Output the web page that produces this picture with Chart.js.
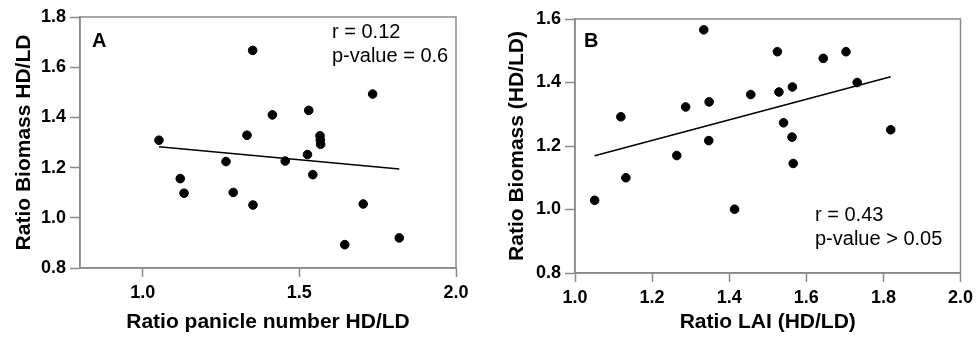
<!DOCTYPE html>
<html>
<head>
<meta charset="utf-8">
<script src="https://cdn.jsdelivr.net/npm/chart.js@4.4.1/dist/chart.umd.min.js"></script>
<style>
  html, body { margin: 0; padding: 0; background: #fff; }
  .panel { position: absolute; top: 0; width: 489px; height: 341px; }
  #wrapA { left: 0; }
  #wrapB { left: 489px; }
</style>
</head>
<body>
<div class="panel" id="wrapA"><canvas id="chartA"></canvas></div>
<div class="panel" id="wrapB"><canvas id="chartB"></canvas></div>
<script>
// panel A: biomass ratio vs panicle number ratio
const panicleA = [1.052, 1.120, 1.132, 1.266, 1.289, 1.333, 1.351, 1.352, 1.414, 1.455, 1.526, 1.530, 1.543, 1.566, 1.567, 1.568, 1.645, 1.704, 1.734, 1.819];
const biomassA = [1.309, 1.156, 1.098, 1.224, 1.101, 1.329, 1.667, 1.051, 1.410, 1.226, 1.252, 1.428, 1.172, 1.327, 1.310, 1.293, 0.893, 1.055, 1.493, 0.920];
const fitAx = [1.052, 1.819];
const fitAy = [1.283, 1.194];
const xTicksA = [1.0, 1.5, 2.0];
const yTicksA = [0.8, 1.0, 1.2, 1.4, 1.6, 1.8];

// panel B: biomass ratio vs LAI ratio
const laiB = [1.051, 1.119, 1.132, 1.264, 1.287, 1.334, 1.348, 1.347, 1.414, 1.456, 1.525, 1.529, 1.541, 1.564, 1.563, 1.566, 1.644, 1.703, 1.732, 1.819];
const biomassB = [1.029, 1.292, 1.100, 1.170, 1.323, 1.566, 1.339, 1.217, 1.001, 1.362, 1.497, 1.370, 1.273, 1.386, 1.228, 1.145, 1.476, 1.497, 1.400, 1.251];
const fitBx = [1.051, 1.819];
const fitBy = [1.169, 1.418];
const xTicksB = [1.0, 1.2, 1.4, 1.6, 1.8, 2.0];
const yTicksB = [0.8, 1.0, 1.2, 1.4, 1.6];

const FONT = "'Liberation Sans', Arial, sans-serif";
const AXIS_GREY = "#8a8a8a";

function toPoints(xs, ys) {
    return xs.map(function (x, i) { return { x: x, y: ys[i] }; });
}

// box around plot area + panel letter + stats text
const boxAndText = {
    id: "boxAndText",
    afterDraw: function (chart, args, opts) {
        const ctx = chart.ctx;
        const a = chart.chartArea;
        ctx.save();
        ctx.strokeStyle = AXIS_GREY;
        ctx.lineWidth = 1.5;
        ctx.strokeRect(a.left, a.top, a.right - a.left, a.bottom - a.top);
        ctx.fillStyle = "#000";
        ctx.textBaseline = "alphabetic";
        ctx.textAlign = "left";
        ctx.font = "bold 20px " + FONT;
        ctx.fillText(opts.letter, a.left + opts.letterX, a.top + opts.letterY);
        ctx.font = "20px " + FONT;
        opts.lines.forEach(function (t, i) {
            ctx.fillText(t, a.left + opts.textX, a.top + opts.textY + i * 24);
        });
        ctx.restore();
    }
};

function makeChart(id, xs, ys, fx, fy, xTicks, yTicks, xTitle, yTitle, lay, ann) {
    new Chart(id, {
        type: "scatter",
        data: {
            datasets: [
                {
                    data: toPoints(xs, ys),
                    backgroundColor: "#000",
                    borderColor: "#000",
                    pointRadius: 4.3,
                    pointHoverRadius: 4.3
                },
                {
                    type: "line",
                    data: toPoints(fx, fy),
                    borderColor: "#000",
                    borderWidth: 1.5,
                    pointRadius: 0,
                    fill: false
                }
            ]
        },
        options: {
            responsive: true,
            maintainAspectRatio: false,
            animation: false,
            layout: { padding: { left: 0, top: lay.top, right: lay.right, bottom: 0 } },
            plugins: {
                legend: { display: false },
                tooltip: { enabled: false },
                boxAndText: ann
            },
            scales: {
                x: {
                    type: "linear",
                    min: lay.xMin,
                    max: xTicks[xTicks.length - 1],
                    afterBuildTicks: function (s) { s.ticks = xTicks.map(function (v) { return { value: v }; }); },
                    afterFit: function (s) { s.height = lay.xHeight; },
                    border: { display: true, color: AXIS_GREY, width: 1.5 },
                    grid: { drawOnChartArea: false, drawTicks: true, tickLength: 9, tickColor: AXIS_GREY, tickWidth: 1.5 },
                    ticks: {
                        padding: 5,
                        color: "#000",
                        font: { family: FONT, size: 18, weight: "bold" },
                        callback: function (v) { return Number(v).toFixed(1); }
                    },
                    title: {
                        display: true,
                        text: xTitle,
                        color: "#000",
                        font: { family: FONT, size: 21, weight: "bold" },
                        padding: { top: 0, bottom: 6 }
                    }
                },
                y: {
                    type: "linear",
                    min: yTicks[0],
                    max: yTicks[yTicks.length - 1],
                    afterBuildTicks: function (s) { s.ticks = yTicks.map(function (v) { return { value: v }; }); },
                    afterFit: function (s) { s.width = lay.yWidth; },
                    border: { display: true, color: AXIS_GREY, width: 1.5 },
                    grid: { drawOnChartArea: false, drawTicks: true, tickLength: 10, tickColor: AXIS_GREY, tickWidth: 1.5 },
                    ticks: {
                        padding: 4,
                        color: "#000",
                        font: { family: FONT, size: 18, weight: "bold" },
                        callback: function (v) { return Number(v).toFixed(1); }
                    },
                    title: {
                        display: true,
                        text: yTitle,
                        color: "#000",
                        font: { family: FONT, size: 21, weight: "bold" },
                        padding: { top: lay.yTitlePad, bottom: 0 }
                    }
                }
            }
        },
        plugins: [boxAndText]
    });
}

makeChart("chartA", panicleA, biomassA, fitAx, fitAy, xTicksA, yTicksA,
    "Ratio panicle number HD/LD", "Ratio Biomass HD/LD",
    { top: 17, right: 33, xHeight: 73, yWidth: 80, xMin: 0.8, yTitlePad: 12 },
    { letter: "A", letterX: 12, letterY: 30, textX: 252, textY: 21, lines: ["r = 0.12", "p-value = 0.6"] });

makeChart("chartB", laiB, biomassB, fitBx, fitBy, xTicksB, yTicksB,
    "Ratio LAI (HD/LD)", "Ratio Biomass (HD/LD)",
    { top: 19, right: 16, xHeight: 68, yWidth: 86, xMin: 1.0, yTitlePad: 16 },
    { letter: "B", letterX: 9, letterY: 28, textX: 240, textY: 202, lines: ["r = 0.43", "p-value > 0.05"] });
</script>
</body>
</html>
